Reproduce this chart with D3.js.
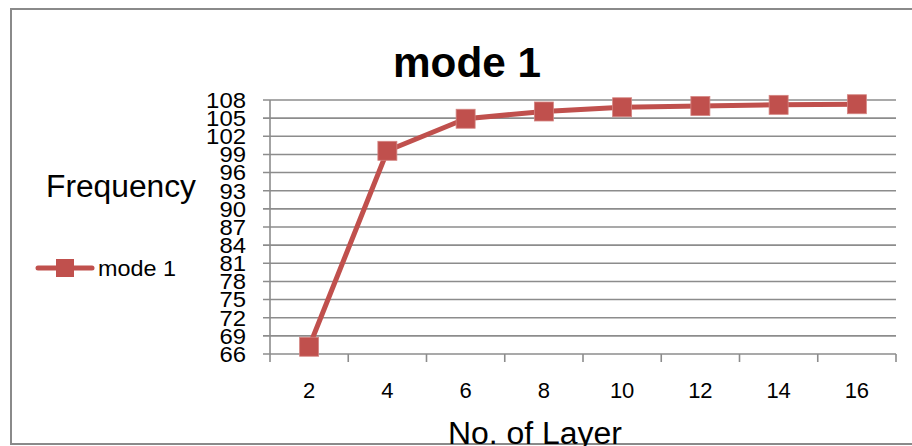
<!DOCTYPE html>
<html>
<head>
<meta charset="utf-8">
<script src="https://cdn.jsdelivr.net/npm/d3@7"></script>
<style>
html,body{margin:0;padding:0;background:#fff;}
svg{display:block;}
text{font-family:"Liberation Sans",Arial,sans-serif;fill:#000;}
</style>
</head>
<body>
<svg id="chart" width="912" height="446"></svg>
<script>
const categories = ["2","4","6","8","10","12","14","16"];
const seriesName = "mode 1";
const values = [67.2, 99.6, 104.9, 106.1, 106.8, 107.0, 107.2, 107.3];
const yTicks = [66,69,72,75,78,81,84,87,90,93,96,99,102,105,108];
const chartTitle = "mode 1";
const xTitle = "No. of Layer";
const yTitle = "Frequency";

(function(){
const color = "#c0504d";
const svg = d3.select("#chart");

// outer border
svg.append("rect").attr("x",11).attr("y",9).attr("width",920).attr("height",435)
  .attr("fill","none").attr("stroke","#8a8a8a").attr("stroke-width",2);

const pL = 270, pR = 896, pT = 100, pB = 354;
const x = d3.scaleBand().domain(categories).range([pL,pR]);
const y = d3.scaleLinear().domain([66,108]).range([pB,pT]);

// gridlines
svg.append("g").selectAll("line").data(yTicks).join("line")
  .attr("x1",pL-7).attr("x2",pR)
  .attr("y1",d=>y(d)).attr("y2",d=>y(d))
  .attr("stroke","#8c8c8c").attr("stroke-width",1.6);

// y axis line
svg.append("line").attr("x1",pL).attr("x2",pL).attr("y1",pT).attr("y2",pB)
  .attr("stroke","#8c8c8c").attr("stroke-width",1.6);

// x axis ticks
const xTickPos = categories.map(c=>x(c)).concat([pR]);
svg.append("g").selectAll("line").data(xTickPos).join("line")
  .attr("x1",d=>d).attr("x2",d=>d).attr("y1",pB).attr("y2",pB+8)
  .attr("stroke","#8c8c8c").attr("stroke-width",1.6);

// y tick labels
svg.append("g").selectAll("text").data(yTicks).join("text")
  .attr("x",246).attr("y",d=>y(d)).attr("dy","0.36em")
  .attr("text-anchor","end").attr("font-size",22)
  .attr("textLength",d=>String(d).length*13.3).attr("lengthAdjust","spacingAndGlyphs")
  .text(d=>d);

// x tick labels
svg.append("g").selectAll("text").data(categories).join("text")
  .attr("x",d=>x(d)+x.bandwidth()/2).attr("y",390).attr("dy","0.36em")
  .attr("text-anchor","middle").attr("font-size",22)
  .text(d=>d);

// line
const line = d3.line().x((d,i)=>x(categories[i])+x.bandwidth()/2).y(d=>y(d));
svg.append("path").datum(values).attr("d",line)
  .attr("fill","none").attr("stroke",color).attr("stroke-width",5).attr("stroke-linejoin","round");

// markers
const ms = 19;
svg.append("g").selectAll("rect").data(values).join("rect")
  .attr("x",(d,i)=>x(categories[i])+x.bandwidth()/2-ms/2)
  .attr("y",d=>y(d)-ms/2)
  .attr("width",ms).attr("height",ms)
  .attr("fill",color).attr("stroke","#d48582").attr("stroke-width",0.8);

// title
svg.append("text").attr("x",467).attr("y",77).attr("text-anchor","middle")
  .attr("font-size",42).attr("font-weight","bold")
  .attr("textLength",148).attr("lengthAdjust","spacingAndGlyphs")
  .text(chartTitle);

// y title
svg.append("text").attr("x",121).attr("y",197).attr("text-anchor","middle")
  .attr("font-size",31).attr("textLength",150).attr("lengthAdjust","spacingAndGlyphs")
  .text(yTitle);

// x title
svg.append("text").attr("x",535).attr("y",444).attr("text-anchor","middle")
  .attr("font-size",31).attr("textLength",174).attr("lengthAdjust","spacingAndGlyphs")
  .text(xTitle);

// legend
const lg = svg.append("g");
lg.append("line").attr("x1",38).attr("x2",92).attr("y1",268).attr("y2",268)
  .attr("stroke",color).attr("stroke-width",5).attr("stroke-linecap","round");
lg.append("rect").attr("x",56).attr("y",259).attr("width",18).attr("height",18)
  .attr("fill",color);
lg.append("text").attr("x",98).attr("y",268).attr("dy","0.36em")
  .attr("font-size",22).attr("textLength",78).attr("lengthAdjust","spacingAndGlyphs")
  .text(seriesName);
})();
</script>
</body>
</html>
